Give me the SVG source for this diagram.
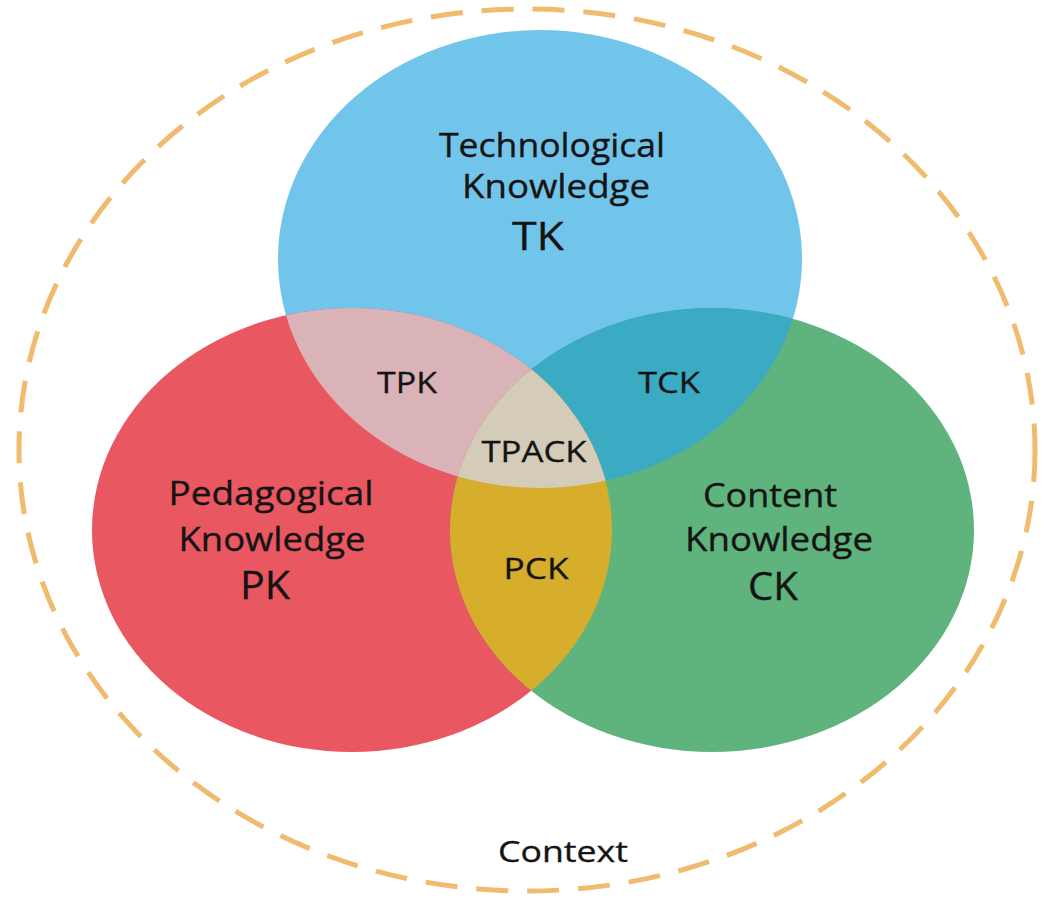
<svg xmlns="http://www.w3.org/2000/svg" width="1048" height="899" viewBox="0 0 1048 899">
<style>
text{font-family:"Open Sans","Liberation Sans",sans-serif;fill:#141414;stroke:#141414;stroke-width:0.35;text-anchor:middle}
.big{font-size:32px}
.abbr{font-size:38px}
.sm{font-size:30px}
</style>
<defs>
<clipPath id="cBlue"><ellipse cx="540" cy="259" rx="262" ry="229"/></clipPath>
<clipPath id="cRed"><ellipse cx="352" cy="530" rx="260" ry="222"/></clipPath>
<clipPath id="cGreen"><ellipse cx="712" cy="530" rx="262" ry="222"/></clipPath>
</defs>
<rect width="1048" height="899" fill="#ffffff"/>
<g id="context">
<ellipse cx="527" cy="450" rx="508" ry="441" fill="none" stroke="#f0bb6e" stroke-width="5" stroke-dasharray="32 19"/>
<text x="563" y="862" style="font-size:30px" textLength="130" lengthAdjust="spacingAndGlyphs">Context</text>
</g>
<g id="tk"><ellipse cx="540" cy="259" rx="262" ry="229" fill="#72c5ea"/></g>
<g id="pk"><ellipse cx="352" cy="530" rx="260" ry="222" fill="#e95761"/></g>
<g id="ck"><ellipse cx="712" cy="530" rx="262" ry="222" fill="#5fb37c"/></g>
<g id="tpk"><g clip-path="url(#cBlue)"><ellipse cx="352" cy="530" rx="260" ry="222" fill="#dab3b8"/></g></g>
<g id="tck"><g clip-path="url(#cBlue)"><ellipse cx="712" cy="530" rx="262" ry="222" fill="#3aabc3"/></g></g>
<g id="pck"><g clip-path="url(#cRed)"><ellipse cx="712" cy="530" rx="262" ry="222" fill="#d6ae2b"/></g></g>
<g id="tpack"><g clip-path="url(#cBlue)"><g clip-path="url(#cRed)"><ellipse cx="712" cy="530" rx="262" ry="222" fill="#d4ccb9"/></g></g></g>
<g id="labels">
<text class="big" x="552" y="157" textLength="226" lengthAdjust="spacingAndGlyphs">Technological</text>
<text class="big" x="556" y="198" textLength="188" lengthAdjust="spacingAndGlyphs">Knowledge</text>
<text class="abbr" x="538" y="250" textLength="52" lengthAdjust="spacingAndGlyphs">TK</text>
<text class="big" x="271" y="505" textLength="205" lengthAdjust="spacingAndGlyphs">Pedagogical</text>
<text class="big" x="272" y="551" textLength="187" lengthAdjust="spacingAndGlyphs">Knowledge</text>
<text class="abbr" x="265" y="599" textLength="50" lengthAdjust="spacingAndGlyphs">PK</text>
<text class="big" x="770" y="507" textLength="134" lengthAdjust="spacingAndGlyphs">Content</text>
<text class="big" x="779" y="551" textLength="188" lengthAdjust="spacingAndGlyphs">Knowledge</text>
<text class="abbr" x="773" y="600" textLength="50" lengthAdjust="spacingAndGlyphs">CK</text>
<text class="sm" x="407" y="393" textLength="60" lengthAdjust="spacingAndGlyphs">TPK</text>
<text class="sm" x="669" y="393" textLength="62" lengthAdjust="spacingAndGlyphs">TCK</text>
<text class="sm" x="534" y="462" textLength="105" lengthAdjust="spacingAndGlyphs">TPACK</text>
<text class="sm" x="536" y="579" textLength="65" lengthAdjust="spacingAndGlyphs">PCK</text>
</g>
</svg>
